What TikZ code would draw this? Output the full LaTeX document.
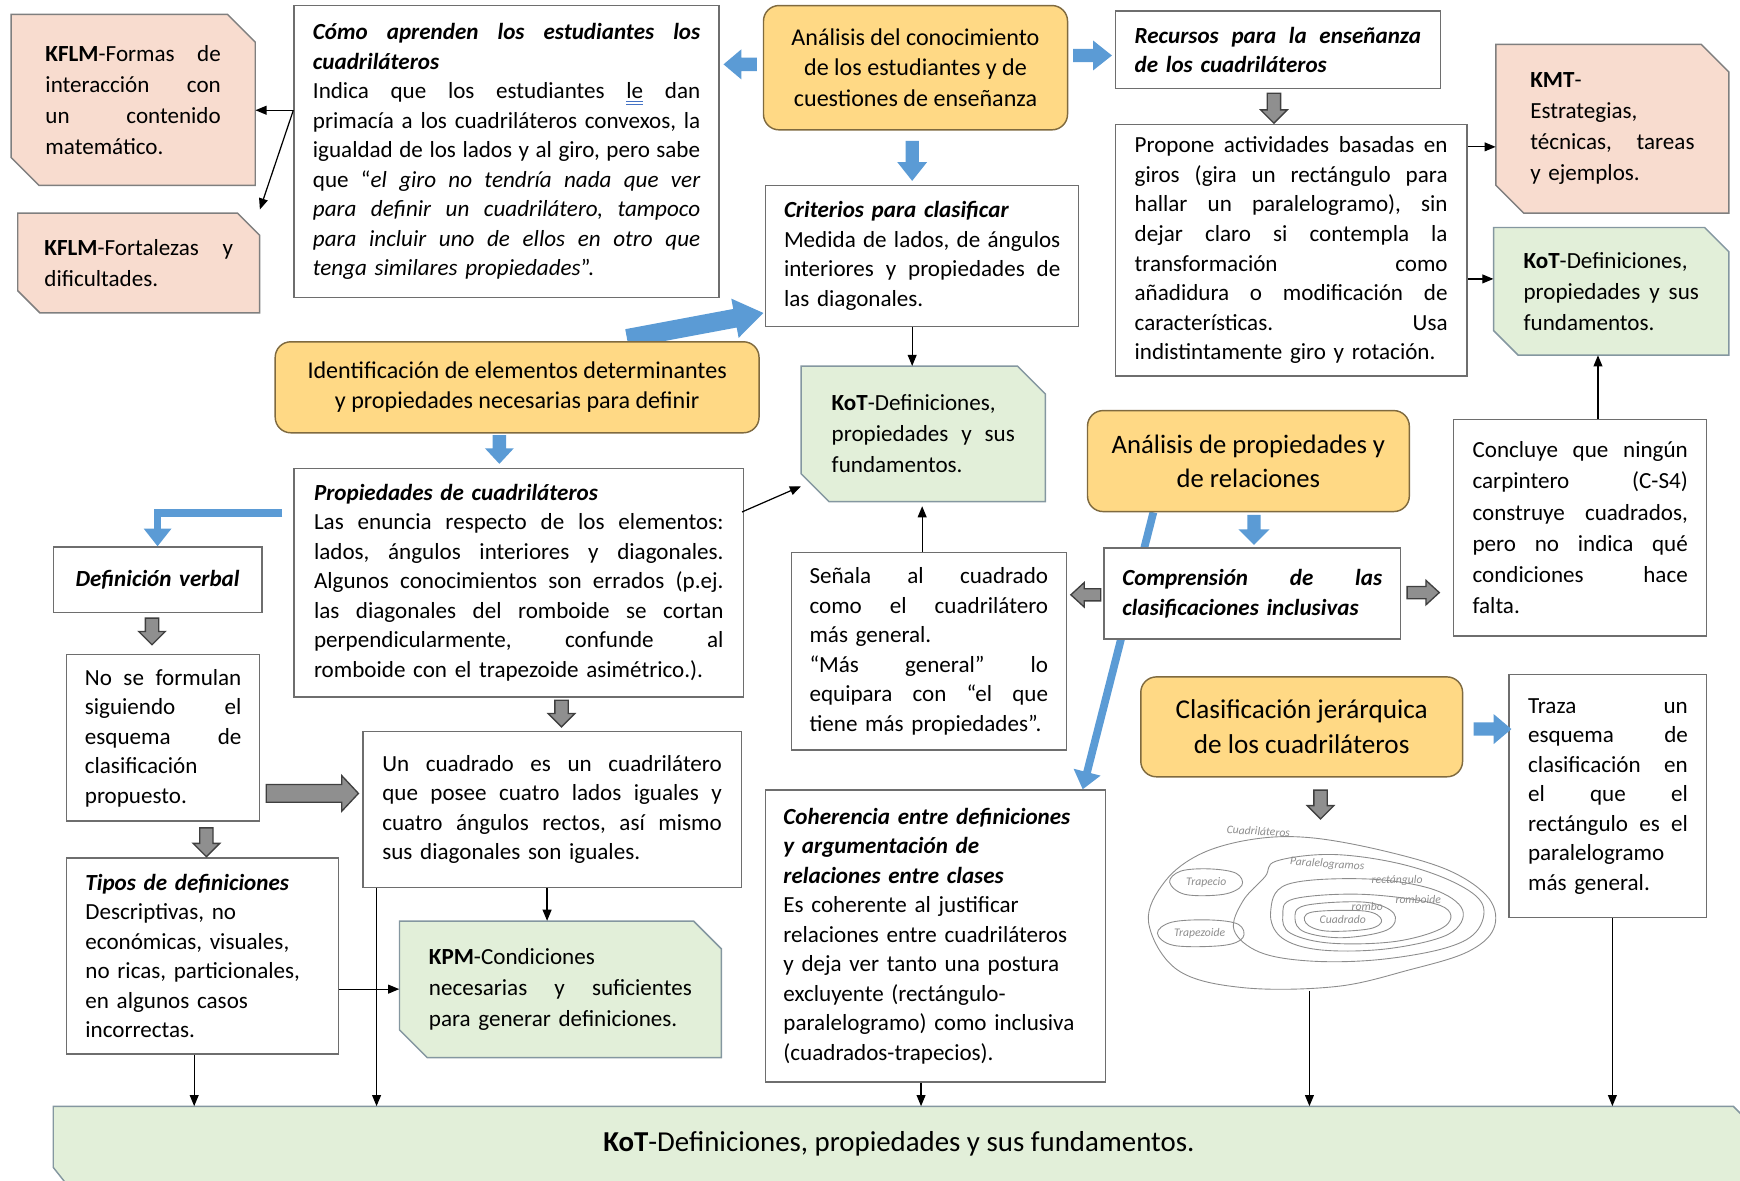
\documentclass[tikz,border=0pt]{standalone}
\usepackage{fontspec}
\setmainfont{Carlito}
\usetikzlibrary{arrows.meta,calc,backgrounds}

\definecolor{salmonfill}{HTML}{F8DCCF}
\definecolor{salmonline}{HTML}{7F7F7F}
\definecolor{greenfill}{HTML}{E2EFD9}
\definecolor{greenline}{HTML}{8497A0}
\definecolor{yfill}{HTML}{FFD985}
\definecolor{yline}{HTML}{7F6A3F}
\definecolor{boxgray}{HTML}{6E6E6E}
\definecolor{arrowblue}{HTML}{5B9BD5}
\definecolor{blockgray}{HTML}{8F8F8F}
\definecolor{blockedge}{HTML}{3F3F3F}
\definecolor{sketchgray}{HTML}{8C8C8C}
\definecolor{ulblue}{HTML}{4472C4}

% a justified line: the words are spread over the whole text width
\newcommand\Jstop{}
\newcommand\J[1]{\leavevmode\hbox to\hsize{\Jloop#1 \Jstop}}
\def\Jloop#1 #2\Jstop{#1\ifx\relax#2\relax\else\hfill\Jloop#2\Jstop\fi}
\newcommand\BI[1]{\textbf{\textit{#1}}}
% blue double underline
\newsavebox\ulbox
\newcommand\dul[1]{\sbox\ulbox{#1}\rlap{\color{ulblue}\rule[-3pt]{\wd\ulbox}{0.8pt}}\rlap{\color{ulblue}\rule[-5.5pt]{\wd\ulbox}{0.8pt}}\usebox\ulbox}

% white text box given by its corners
\newcommand\bx[8][]{\node[wbox,#1,minimum width={(#5-#3)*1pt},minimum height={(#6-#4)*1pt},text width=#7pt] (#2) at ({(#3+#5)/2},{(#4+#6)/2}) {#8};}
% box with two snipped corners (top right, bottom left)
\newcommand\sbx[9]{%
  \filldraw[#2] (#3,#4) -- ({#5-#7},#4) -- (#5,{#4+#7}) -- (#5,#6) -- ({#3+#7},#6) -- (#3,{#6-#7}) -- cycle;
  \node[snipt,minimum width={(#5-#3)*1pt},minimum height={(#6-#4)*1pt},text width=#8pt] (#1) at ({(#3+#5)/2},{(#4+#6)/2}) {#9};}
% rounded yellow box
\newcommand\yb[7]{\node[ybox,font=#6,minimum width={(#4-#2)*1pt},minimum height={(#5-#3)*1pt}] (#1) at ({(#2+#4)/2},{(#3+#5)/2}) {#7};}
% block arrow: style, x, y, angle, length, shaft, head, head length
\newcommand\barrow[8]{\filldraw[#1,shift={(#2,#3)},rotate=#4] (0,{-(#6)/2}) -- ({#5-#8},{-(#6)/2}) -- ({#5-#8},{-(#7)/2}) -- (#5,0) -- ({#5-#8},{(#7)/2}) -- ({#5-#8},{(#6)/2}) -- (0,{(#6)/2}) -- cycle;}

\tikzset{
  txt/.style={font=\fontsize{20.8}{26.6}\selectfont, inner sep=0pt, align=left},
  wbox/.style={txt, draw=boxgray, line width=1.3pt, fill=white},
  snipt/.style={txt, font=\fontsize{20.8}{28}\selectfont},
  ybox/.style={draw=yline, line width=1.3pt, fill=yfill, rounded corners=14pt, inner sep=0pt, align=center},
  salm/.style={fill=salmonfill, draw=salmonline, line width=1.3pt},
  grn/.style={fill=greenfill, draw=greenline, line width=1.3pt},
  conn/.style={-{Triangle[length=10pt,width=8pt]}, line width=1.1pt},
  bluelink/.style={draw=arrowblue, line width=7pt, -{Triangle[length=16pt,width=24pt]}},
  blueblock/.style={fill=arrowblue, draw=none},
  grayblock/.style={fill=blockgray, draw=blockedge, line width=1.2pt},
  sketch/.style={draw=sketchgray, line width=0.8pt},
  sklabel/.style={text=sketchgray, font=\fontsize{10.5}{10.5}\selectfont\itshape, inner sep=0pt},
}

\begin{document}
\begin{tikzpicture}[x=1pt,y=-1pt]
\useasboundingbox (0,0) rectangle (1568,1064);

% ---- top row ----
\sbx{kflma}{salm}{10}{13}{230}{167}{25}{158}{\J{\textbf{KFLM}-Formas de}\\ \J{interacción con}\\ \J{un contenido}\\ matemático.}
\sbx{kflmb}{salm}{16}{192}{234}{282}{20}{170}{\J{\textbf{KFLM}-Fortalezas y}\\ dificultades.}

\bx{como}{265}{5}{648}{268}{349}{\J{\bfseries\itshape Cómo aprenden los estudiantes los}\\ \BI{cuadriláteros}\\ \J{Indica que los estudiantes \dul{le} dan}\\ \J{primacía a los cuadriláteros convexos, la}\\ \J{igualdad de los lados y al giro, pero sabe}\\ \J{que “\itshape el giro no tendría nada que ver}\\ \J{\itshape para definir un cuadrilátero, tampoco}\\ \J{\itshape para incluir uno de ellos en otro que}\\ \textit{tenga similares propiedades}”.}

\yb{anaa}{688}{5}{962}{117}{\fontsize{21.7}{27.5}\selectfont}{Análisis del conocimiento\\de los estudiantes y de\\cuestiones de enseñanza}

\bx{recu}{1005}{10}{1298}{80}{258}{\J{\bfseries\itshape Recursos para la enseñanza}\\ \BI{de los cuadriláteros}}

\bx{prope}{1005}{112}{1322}{339}{282}{\J{Propone actividades basadas en}\\ \J{giros (gira un rectángulo para}\\ \J{hallar un paralelogramo), sin}\\ \J{dejar claro si contempla la}\\ \J{transformación como}\\ \J{añadidura o modificación de}\\ \J{características. Usa}\\ indistintamente giro y rotación.}

\sbx{kmt}{salm}{1348}{40}{1558}{192}{25}{148}{\textbf{KMT}-\\ Estrategias,\\ \J{técnicas, tareas}\\ y ejemplos.}
\sbx{kotr}{grn}{1346}{205}{1558}{320}{22}{158}{\textbf{KoT}-Definiciones,\\ \J{propiedades y sus}\\ fundamentos.}

% ---- middle ----
\bx{crit}{690}{167}{972}{294}{249}{\BI{Criterios para clasificar}\\ \J{Medida de lados, de ángulos}\\ \J{interiores y propiedades de}\\ las diagonales.}

\yb{ident}{248}{308}{684}{390}{\fontsize{21.7}{27}\selectfont}{Identificación de elementos determinantes\\y propiedades necesarias para definir}

\sbx{kotm}{grn}{722}{330}{942}{452}{25}{165}{\textbf{KoT}-Definiciones,\\ \J{propiedades y sus}\\ fundamentos.}

\bx{prop}{265}{422}{670}{628}{369}{\BI{Propiedades de cuadriláteros}\\ \J{Las enuncia respecto de los elementos:}\\ \J{lados, ángulos interiores y diagonales.}\\ \J{Algunos conocimientos son errados (p.ej.}\\ \J{las diagonales del romboide se cortan}\\ \J{perpendicularmente, confunde al}\\ romboide con el trapezoide asimétrico.).}

\bx[align=center]{defv}{48}{493}{236}{552}{170}{\BI{Definición verbal}}

\bx{nose}{60}{590}{234}{740}{141}{\J{No se formulan}\\ \J{siguiendo el}\\ \J{esquema de}\\ clasificación\\ propuesto.}

\bx{uncu}{327}{659}{668}{800}{306}{\J{Un cuadrado es un cuadrilátero}\\ \J{que posee cuatro lados iguales y}\\ \J{cuatro ángulos rectos, así mismo}\\ sus diagonales son iguales.}

\bx{tipos}{60}{773}{305}{950}{211}{\BI{Tipos de definiciones}\\ Descriptivas, no\\ económicas, visuales,\\ no ricas, particionales,\\ en algunos casos\\ incorrectas.}

\sbx{kpm}{grn}{360}{830}{650}{953}{25}{237}{\textbf{KPM}-Condiciones\\ \J{necesarias y suficientes}\\ para generar definiciones.}

\bx{sen}{713}{498}{961}{676}{215}{\J{Señala al cuadrado}\\ \J{como el cuadrilátero}\\ más general.\\ \J{“Más general” lo}\\ \J{equipara con “el que}\\ tiene más propiedades”.}

\yb{anab}{980}{370}{1270}{461}{\fontsize{24}{31}\selectfont}{Análisis de propiedades y\\de relaciones}

\bx{comp}{995}{494}{1262}{576}{234}{\J{\bfseries\itshape Comprensión de las}\\ \BI{clasificaciones inclusivas}}

\bx[font=\fontsize{20.8}{28}\selectfont]{conc}{1310}{378}{1538}{573}{194}{\J{Concluye que ningún}\\ \J{carpintero (C-S4)}\\ \J{construye cuadrados,}\\ \J{pero no indica qué}\\ \J{condiciones hace}\\ falta.}

\bx{coh}{690}{712}{996}{975}{274}{\BI{Coherencia entre definiciones}\\ \BI{y argumentación de}\\ \BI{relaciones entre clases}\\ Es coherente al justificar\\ relaciones entre cuadriláteros\\ y deja ver tanto una postura\\ excluyente (rectángulo-\\ paralelogramo) como inclusiva\\ (cuadrados-trapecios).}

\yb{clas}{1028}{610}{1318}{700}{\fontsize{24.5}{32}\selectfont}{Clasificación jerárquica\\de los cuadriláteros}

\bx{traza}{1360}{608}{1538}{827}{144}{\J{Traza un}\\ \J{esquema de}\\ \J{clasificación en}\\ \J{el que el}\\ \J{rectángulo es el}\\ paralelogramo\\ más general.}

% ---- hand-drawn classification sketch ----
\draw[sketch] plot[smooth cycle, tension=0.6] coordinates {(1035,831) (1050,794) (1083,769) (1131,756) (1182,755) (1248,767) (1307,785) (1342,810) (1346,837) (1322,858) (1270,874) (1204,889) (1120,890) (1061,874)};
\draw[sketch] plot[smooth cycle, tension=0.6] coordinates {(1150,776) (1200,770) (1260,778) (1310,795) (1336,815) (1330,840) (1300,855) (1240,865) (1180,866) (1135,858) (1112,838) (1120,812) (1140,790)};
\draw[sketch] plot[smooth cycle, tension=0.6] coordinates {(1160,797) (1230,792) (1290,801) (1318,820) (1305,842) (1250,855) (1190,856) (1155,845) (1145,822)};
\draw[sketch] plot[smooth cycle, tension=0.6] coordinates {(1166,810) (1230,806) (1298,816) (1303,834) (1260,848) (1200,850) (1163,841) (1156,825)};
\draw[sketch] plot[smooth cycle, tension=0.6] coordinates {(1176,816) (1230,813) (1256,823) (1250,838) (1210,845) (1176,840) (1167,828)};
\draw[sketch] plot[smooth cycle, tension=0.6] coordinates {(1182,822) (1230,821) (1245,829) (1234,837) (1195,839) (1177,832)};
\draw[sketch] plot[smooth cycle, tension=0.6] coordinates {(1054,795) (1064,785) (1090,783) (1114,787) (1119,798) (1102,806) (1068,806)};
\draw[sketch] plot[smooth cycle, tension=0.6] coordinates {(1043,841) (1056,831) (1090,829) (1116,833) (1120,845) (1102,852) (1058,852)};
\node[sklabel, rotate=-3] (lcuad) at (1134,749) {Cuadriláteros};
\node[sklabel, rotate=-4] (lpar) at (1196,779) {Paralelogramos};
\node[sklabel] (lrect) at (1259,793) {rectángulo};
\node[sklabel] (lromboide) at (1278,811) {romboide};
\node[sklabel] (lrombo) at (1232,817) {rombo};
\node[sklabel] (lcdo) at (1210,829) {Cuadrado};
\node[sklabel] (ltrapecio) at (1087,795) {Trapecio};
\node[sklabel] (ltrapezoide) at (1081,841) {Trapezoide};
\coordinate (skbottom) at (1180,893);

% ---- bottom band ----
\filldraw[grn] (48,997) -- (1562,997) -- (1590,1025) -- (1590,1100) -- (86,1100) -- (48,1052) -- cycle;
\node[txt, font=\fontsize{26}{30}\selectfont, minimum width=1520pt, minimum height=67pt] (kotb) at (810,1030.5) {\textbf{KoT}-Definiciones, propiedades y sus fundamentos.};

% ---- blue links running behind the boxes ----
\begin{scope}[on background layer]
  \draw[bluelink] ($(anab.south west)+(60,0)$) -- ($(coh.north east)+(-21,0)$);
  \barrow{blueblock}{565}{305}{10.6}{125}{17}{36}{26}
\end{scope}
\draw[bluelink] ($(prop.north west)+(-10,41)$) -| (defv.north);

% ---- block arrows ----
\barrow{blueblock}{682}{58}{180}{30}{12}{27}{16}
\barrow{blueblock}{967}{50}{0}{35}{12}{27}{17}
\barrow{blueblock}{822}{127}{-90}{36}{12}{27}{17}
\barrow{blueblock}{450}{392}{-90}{26}{12}{26}{14}
\barrow{blueblock}{1130}{464}{-90}{27}{12}{28}{14}
\barrow{blueblock}{1328}{657}{0}{34}{12}{27}{16}

\barrow{grayblock}{1148}{84}{-90}{27}{12}{24}{12}
\barrow{grayblock}{506}{631}{-90}{24}{12}{24}{12}
\barrow{grayblock}{137}{557}{-90}{24}{12}{24}{12}
\barrow{grayblock}{186}{746}{-90}{26}{12}{24}{12}
\barrow{grayblock}{1190}{712}{-90}{26}{12}{24}{12}
\barrow{grayblock}{240}{715}{0}{83}{16}{32}{15}
\barrow{grayblock}{992}{536}{180}{27}{11}{22}{12}
\barrow{grayblock}{1268}{534}{0}{29}{11}{22}{12}

% ---- thin connectors ----
\draw[conn] ($(como.north west)+(0,95)$) coordinate (cfork) -- (cfork -| kflma.east);
\draw[conn] (cfork) -- ($(kflmb.north east)+(0,-3)$);
\draw[conn] ($(crit.south)+(-9,0)$) coordinate (c1) -- (c1 |- kotm.north);
\draw[conn] ($(prop.north east)+(-2,40)$) -- ($(kotm.south west)+(0,-14)$);
\draw[conn] ($(sen.north)+(-6,0)$) coordinate (c2) -- ($(c2 |- kotm.south)+(0,4)$);
\draw[conn] ($(prope.north east)+(0,21)$) coordinate (c3) -- (c3 -| kmt.west);
\draw[conn] ($(prope.north east)+(0,140)$) coordinate (c4) -- (c4 -| kotr.west);
\draw[conn] ($(conc.north)+(16,0)$) coordinate (c5) -- (c5 |- kotr.south);
\draw[conn] ($(uncu.south)+(-4.5,0)$) coordinate (c6) -- (c6 |- kpm.north);
\draw[conn] ($(tipos.north east)+(0,119)$) coordinate (c7) -- (c7 -| kpm.west);
\draw[conn] ($(tipos.south)+(-7.5,0)$) coordinate (c8) -- (c8 |- kotb.north);
\draw[conn] ($(uncu.south west)+(13,0)$) coordinate (c9) -- (c9 |- kotb.north);
\draw[conn] ($(coh.south)+(-13,0)$) coordinate (c10) -- (c10 |- kotb.north);
\draw[conn] (skbottom) -- (skbottom |- kotb.north);
\draw[conn] ($(traza.south)+(4,0)$) coordinate (c11) -- (c11 |- kotb.north);
\end{tikzpicture}
\end{document}
